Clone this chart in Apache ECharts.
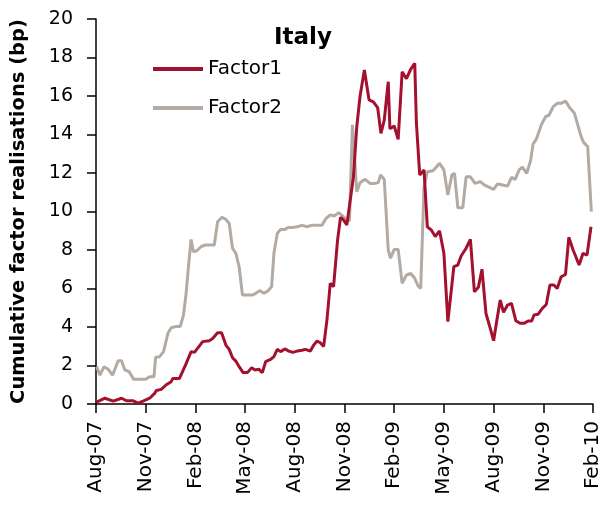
<!DOCTYPE html>
<html>
<head>
<meta charset="utf-8">
<title>Italy</title>
<script src="https://cdn.jsdelivr.net/npm/echarts@6/dist/echarts.min.js"></script>
<style>
  html, body { margin: 0; padding: 0; background: #fff; }
  #chart { width: 603px; height: 508px; }
</style>
</head>
<body>
<div id="chart"></div>
<script>
// x tick labels, one every 3 months starting Aug-07
var tickLabels = ['Aug-07', 'Nov-07', 'Feb-08', 'May-08', 'Aug-08', 'Nov-08', 'Feb-09', 'May-09', 'Aug-09', 'Nov-09', 'Feb-10']

// Factor1: x = months since Aug-07, y = bp
var f1Months = [0.04, 0.54, 1.04, 1.54, 1.84, 2.22, 2.54, 2.84, 3.24, 3.54,
  3.64, 3.94, 4.24, 4.54, 4.64, 5.04, 5.44, 5.74, 5.94, 6.14,
  6.44, 6.84, 7.04, 7.34, 7.58, 7.84, 8.04, 8.24, 8.44, 8.64,
  8.88, 9.14, 9.40, 9.58, 9.84, 10.04, 10.24, 10.54, 10.74, 10.94,
  11.14, 11.40, 11.64, 11.88, 12.14, 12.44, 12.64, 12.94, 13.14, 13.34,
  13.54, 13.74, 13.94, 14.14, 14.34, 14.58, 14.76, 14.94, 15.14, 15.54,
  15.74, 15.94, 16.20, 16.48, 16.74, 17.00, 17.20, 17.40, 17.64, 17.74,
  18.00, 18.24, 18.48, 18.74, 19.00, 19.24, 19.34, 19.54, 19.80, 20.00,
  20.24, 20.48, 20.74, 21.00, 21.24, 21.60, 21.84, 22.04, 22.34, 22.60,
  22.84, 23.08, 23.30, 23.54, 23.80, 24.00, 24.20, 24.40, 24.60, 24.84,
  25.08, 25.34, 25.60, 25.84, 26.08, 26.30, 26.44, 26.68, 26.94, 27.18,
  27.40, 27.64, 27.84, 28.08, 28.34, 28.54, 28.80, 29.00, 29.16, 29.40,
  29.64, 29.88]
var f1Values = [0.1, 0.3, 0.15, 0.3, 0.17, 0.17, 0.04, 0.15, 0.3, 0.55,
  0.7, 0.76, 1.0, 1.16, 1.33, 1.33, 2.1, 2.72, 2.68, 2.9,
  3.24, 3.29, 3.4, 3.7, 3.7, 3.06, 2.84, 2.4, 2.23, 1.94,
  1.63, 1.63, 1.89, 1.77, 1.8, 1.63, 2.2, 2.32, 2.46, 2.84,
  2.72, 2.86, 2.75, 2.68, 2.75, 2.79, 2.84, 2.75, 3.06, 3.27,
  3.18, 2.98, 4.36, 6.27, 6.1, 8.5, 9.7, 9.56, 9.3, 11.8,
  14.4, 16.0, 17.35, 15.8, 15.7, 15.4, 14.06, 14.75, 16.74, 14.3,
  14.44, 13.75, 17.26, 16.9, 17.4, 17.7, 14.6, 11.9, 12.16, 9.2,
  9.04, 8.7, 8.99, 7.83, 4.28, 7.13, 7.22, 7.69, 8.09, 8.55,
  5.83, 6.06, 7.0, 4.7, 3.93, 3.29, 4.36, 5.4, 4.76, 5.14,
  5.23, 4.33, 4.19, 4.19, 4.31, 4.31, 4.62, 4.66, 4.97, 5.17,
  6.18, 6.18, 6.0, 6.61, 6.73, 8.66, 8.0, 7.57, 7.22, 7.83,
  7.74, 9.21]

// Factor2
var f2Months = [0.04, 0.24, 0.48, 0.74, 1.00, 1.34, 1.54, 1.74, 2.00, 2.28,
  2.64, 3.00, 3.24, 3.50, 3.60, 3.84, 4.08, 4.34, 4.54, 4.80,
  5.08, 5.28, 5.44, 5.58, 5.74, 5.88, 6.08, 6.34, 6.60, 7.14,
  7.34, 7.60, 7.84, 8.04, 8.24, 8.44, 8.64, 8.84, 9.44, 9.64,
  9.88, 10.14, 10.40, 10.60, 10.74, 10.94, 11.14, 11.40, 11.60, 11.88,
  12.14, 12.44, 12.74, 13.00, 13.64, 13.88, 14.14, 14.40, 14.64, 14.88,
  15.14, 15.30, 15.48, 15.74, 15.94, 16.24, 16.54, 16.84, 17.04, 17.18,
  17.40, 17.64, 17.78, 18.00, 18.24, 18.48, 18.74, 19.00, 19.24, 19.44,
  19.60, 19.80, 20.00, 20.34, 20.74, 21.00, 21.24, 21.48, 21.64, 21.84,
  22.14, 22.34, 22.60, 22.88, 23.20, 23.44, 23.74, 24.00, 24.24, 24.54,
  24.84, 25.08, 25.30, 25.54, 25.74, 26.00, 26.24, 26.38, 26.60, 26.88,
  27.14, 27.34, 27.60, 27.84, 28.08, 28.34, 28.58, 28.88, 29.08, 29.28,
  29.44, 29.68, 29.90]
var f2Values = [1.94, 1.5, 1.94, 1.8, 1.5, 2.25, 2.25, 1.77, 1.68, 1.28,
  1.28, 1.28, 1.42, 1.42, 2.43, 2.46, 2.72, 3.67, 3.96, 4.02,
  4.02, 4.62, 5.75, 7.13, 8.55, 7.91, 7.96, 8.17, 8.26, 8.26,
  9.47, 9.7, 9.59, 9.38, 8.09, 7.83, 7.13, 5.66, 5.66, 5.75,
  5.89, 5.75, 5.89, 6.1, 7.83, 8.86, 9.07, 9.07, 9.17, 9.17,
  9.21, 9.28, 9.21, 9.28, 9.28, 9.64, 9.82, 9.77, 9.94, 9.77,
  9.56, 9.52, 14.5, 11.03, 11.5, 11.67, 11.46, 11.46, 11.5, 11.9,
  11.67, 8.0, 7.57, 8.03, 8.03, 6.27, 6.7, 6.78, 6.53, 6.13,
  6.0, 11.3, 12.07, 12.12, 12.5, 12.16, 10.86, 11.9, 11.98, 10.2,
  10.2, 11.8, 11.8, 11.46, 11.55, 11.38, 11.25, 11.15, 11.43, 11.38,
  11.32, 11.77, 11.67, 12.16, 12.3, 11.98, 12.67, 13.5, 13.8, 14.5,
  14.93, 15.0, 15.45, 15.62, 15.62, 15.74, 15.41, 15.1, 14.5, 13.9,
  13.58, 13.37, 9.99]

function pairs(xs, ys) {
  return xs.map(function (x, i) { return [x, ys[i]] })
}

var font = 'DejaVu Sans'
var chart = echarts.init(document.getElementById('chart'))

var option = {
  animation: false,
  title: {
    text: 'Italy',
    left: 274,
    top: 27,
    padding: 0,
    textStyle: { fontFamily: font, fontWeight: 'bold', fontSize: 23, color: '#000' }
  },
  legend: {
    orient: 'vertical',
    left: 153,
    top: 59,
    padding: 0,
    itemWidth: 50,
    itemHeight: 4,
    itemGap: 19,
    icon: 'rect',
    textStyle: { fontFamily: font, fontSize: 20, color: '#000', lineHeight: 20 },
    data: ['Factor1', 'Factor2']
  },
  grid: { left: 96, right: 7, top: 19, bottom: 104 },
  xAxis: {
    type: 'value',
    min: 0,
    max: 30,
    interval: 3,
    axisLine: { lineStyle: { color: '#000', width: 1.5 } },
    axisTick: { length: 9, lineStyle: { color: '#000', width: 1.5 } },
    splitLine: { show: false },
    axisLabel: {
      rotate: 90,
      margin: 17,
      color: '#000',
      fontFamily: font,
      fontSize: 20,
      formatter: function (v) { return tickLabels[Math.round(v / 3)] }
    }
  },
  yAxis: {
    type: 'value',
    min: 0,
    max: 20,
    interval: 2,
    name: 'Cumulative factor realisations (bp)',
    nameLocation: 'middle',
    nameGap: 67,
    nameTextStyle: { fontFamily: font, fontWeight: 'bold', fontSize: 19.5, color: '#000' },
    axisLine: { show: true, lineStyle: { color: '#000', width: 1.5 } },
    axisTick: { show: true, length: 9, lineStyle: { color: '#000', width: 1.5 } },
    splitLine: { show: false },
    axisLabel: { margin: 23, color: '#000', fontFamily: font, fontSize: 19 }
  },
  series: [
    {
      name: 'Factor1',
      type: 'line',
      z: 3,
      symbol: 'none',
      color: '#A3112F',
      lineStyle: { width: 3, color: '#A3112F' },
      data: pairs(f1Months, f1Values)
    },
    {
      name: 'Factor2',
      type: 'line',
      z: 2,
      symbol: 'none',
      color: '#B3ABA3',
      lineStyle: { width: 3, color: '#B3ABA3' },
      data: pairs(f2Months, f2Values)
    }
  ]
}

chart.setOption(option)
</script>
</body>
</html>
